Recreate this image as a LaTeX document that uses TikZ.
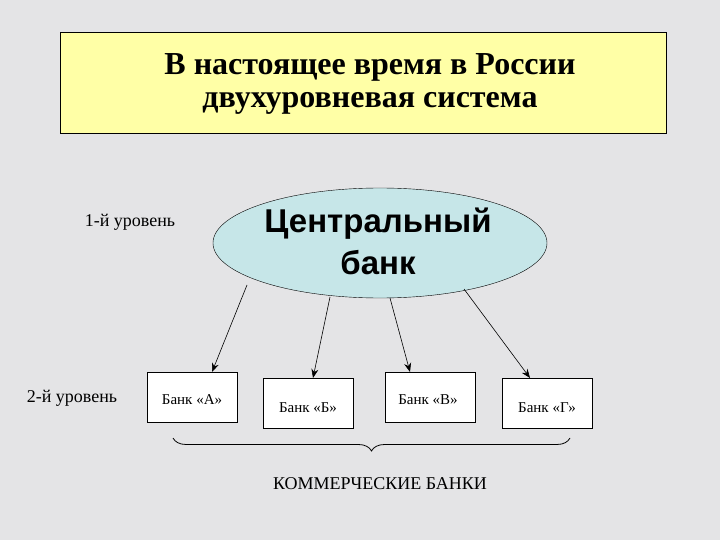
\documentclass[tikz,border=0pt]{standalone}
\usepackage{fontspec}
\setmainfont{Liberation Serif}
\newfontfamily\arialf{Liberation Sans}
\usetikzlibrary{shapes.geometric,decorations.pathreplacing,arrows.meta}
\definecolor{bg}{HTML}{E4E4E6}
\definecolor{ttl}{HTML}{FFFFA6}
\definecolor{ell}{HTML}{C6E6E8}
\tikzset{bankbox/.style={draw,fill=white,minimum width=90pt,minimum height=50pt,anchor=north west},
 lbl/.style={font=\fontsize{18}{20}\selectfont},
 blbl/.style={font=\fontsize{15}{17}\selectfont},
 arr/.style={-{Stealth[length=9pt,width=7pt]},semithick}}
\begin{document}
\begin{tikzpicture}[x=1pt,y=-1pt]
\fill[bg] (0,0) rectangle (720,540);
\useasboundingbox (0,0) rectangle (720,540);
\node[draw,fill=ttl,minimum width=606pt,minimum height=101pt,anchor=north west,inner sep=0] (title) at (60,32) {};
\node[align=center,font=\bfseries\fontsize{32}{33}\selectfont] (tt) at (370,84) {В настоящее время в России\\двухуровневая система};
\node[draw,ellipse,fill=ell,minimum width=334pt,minimum height=110pt] (cb) at (380,243) {};
\node[align=center,font=\arialf\bfseries\fontsize{33}{42}\selectfont] (cbt) at (378,241) {Центральный\\банк};
\node[lbl] (l1) at (130,222) {1-й уровень};
\node[lbl] (l2) at (72,398) {2-й уровень};
\node[bankbox] (a) at (147,372) {};
\node[bankbox] (b) at (263,378) {};
\node[bankbox] (v) at (385,372) {};
\node[bankbox] (g) at (502,378) {};
\node[blbl] (at) at (192,400) {Банк «А»};
\node[blbl] (bt) at (308,408) {Банк «Б»};
\node[blbl] (vt) at (428,400) {Банк «В»};
\node[blbl] (gt) at (547,408) {Банк «Г»};
\coordinate (s1) at (247,285); \coordinate (s2) at (330,297);
\coordinate (s3) at (390,298); \coordinate (s4) at (464,289);
\coordinate (e1) at (212,372); \coordinate (e2) at (313,378);
\coordinate (e3) at (410,372); \coordinate (e4) at (530,378);
\draw[arr] (s1) -- (e1);
\draw[arr] (s2) -- (e2);
\draw[arr] (s3) -- (e3);
\draw[arr] (s4) -- (e4);
\coordinate (br1) at (173,438); \coordinate (br2) at (570,438);
\draw[thick,decorate,decoration={brace,mirror,amplitude=13pt}] (br1) -- (br2);
\node[lbl] (kb) at (380,484) {КОММЕРЧЕСКИЕ БАНКИ};
\end{tikzpicture}
\end{document}
